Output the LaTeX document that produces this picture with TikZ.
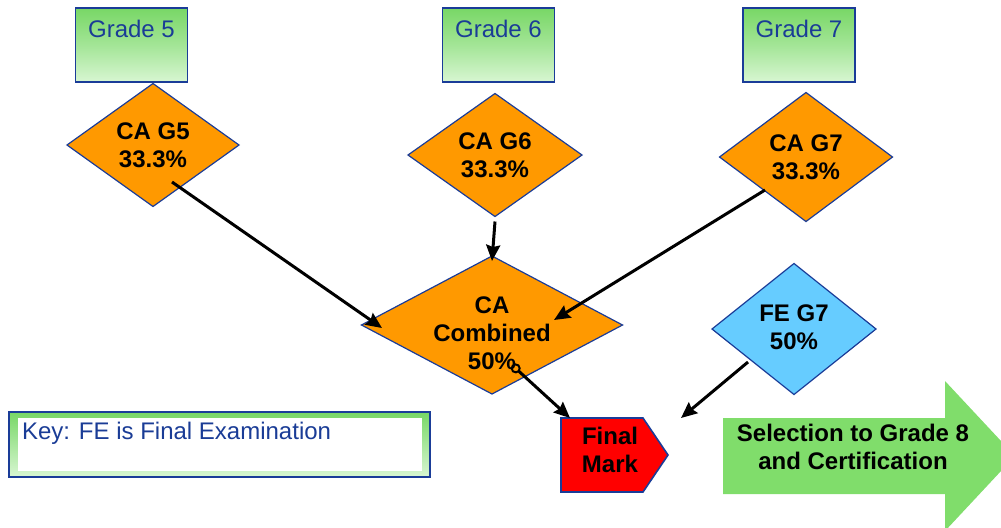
\documentclass[tikz,border=0pt]{standalone}
\usepackage{fontspec}
\setmainfont{Liberation Sans}
\usetikzlibrary{shapes.geometric,arrows.meta}
\definecolor{ora}{HTML}{FF9900}
\definecolor{bord}{HTML}{1A3C98}
\definecolor{gtxt}{HTML}{1A3C96}
\definecolor{lblue}{HTML}{66CCFF}
\definecolor{gtop}{HTML}{78D766}
\definecolor{gbot}{HTML}{D8F6D2}
\definecolor{garrow}{HTML}{80DD6B}
\tikzset{
  diam/.style={diamond, draw=bord, line width=0.6pt, inner sep=0pt, outer sep=0pt},
  dtext/.style={font=\fontsize{12}{14}\selectfont\bfseries, align=center, text=black},
  gradebox/.style={rectangle, draw=bord, line width=0.8pt, top color=gtop, bottom color=gbot, middle color=gtop!55!gbot,
    minimum width=56pt, minimum height=37pt, inner sep=0pt},
  gtextst/.style={font=\fontsize{12}{14}\selectfont, text=gtxt},
  tipst/.tip={Stealth[length=8pt,width=7pt,inset=1pt]},
  conn/.style={line width=1.5pt, -{tipst}},
}
\begin{document}
\begin{tikzpicture}[x=0.5pt,y=-0.5pt]
\useasboundingbox (0,0) rectangle (1001,527);
\clip (0,0) rectangle (1001,527);
% grade boxes
\node[gradebox, label={[gtextst, yshift=8pt]center:Grade 5}] (g5) at (131.5,45) {};
\node[gradebox, label={[gtextst, yshift=8pt]center:Grade 6}] (g6) at (498.5,45) {};
\node[gradebox, label={[gtextst, yshift=8pt]center:Grade 7}] (g7) at (799,45) {};
% CA diamonds
\node[diam, fill=ora, minimum width=86pt, minimum height=61.5pt,
  label={[dtext]center:CA G5\\33.3\%}] (cag5) at (153,145) {};
\node[diam, fill=ora, minimum width=87pt, minimum height=61.5pt,
  label={[dtext]center:CA G6\\33.3\%}] (cag6) at (495,155) {};
\node[diam, fill=ora, minimum width=86.5pt, minimum height=64.5pt,
  label={[dtext]center:CA G7\\33.3\%}] (cag7) at (806,157) {};
\node[diam, fill=ora, minimum width=130.5pt, minimum height=69pt,
  label={[dtext, yshift=-4pt]center:CA\\Combined\\50\%}] (cac) at (492,325) {};
\node[diam, fill=lblue, minimum width=82pt, minimum height=65.5pt,
  label={[dtext, yshift=1pt]center:FE G7\\50\%}] (fe) at (794,329) {};
% Final mark
\draw[bord, line width=0.8pt, fill=red] (561,418) -- (643,418) -- (668,455) -- (643,492) -- (561,492) -- cycle;
\node[dtext] (fm) at (610,450) {Final\\Mark};
\coordinate (fmA) at (570,418);
\coordinate (fmB) at (681,418);
% green arrow
\fill[garrow] (723,418) -- (945,418) -- (945,381) -- (1015,456) -- (945,531) -- (945,494) -- (723,494) -- cycle;
\node[dtext] (sel) at (853,447) {Selection to Grade 8\\and Certification};
% key box
\draw[bord, line width=0.8pt, top color=gtop, bottom color=gbot] (9,412) rectangle (430,477);
\fill[white] (18,418) rectangle (422,471);
\node[gtextst, anchor=west] (key) at (15,433) {Key: FE is Final Examination};
% connectors
\draw[conn] ([shift={(19,37)}]cag5.center) -- ([shift={(-110,3)}]cac.center);
\draw[conn] ([shift={(0,5)}]cag6.south) -- ([shift={(0,5)}]cac.north);
\draw[conn] ([shift={(-41,33)}]cag7.center) -- ([shift={(62,-5)}]cac.center);
\draw[line width=1.5pt, {Circle[open,length=5pt,line width=1pt]}-{tipst}] ([shift={(20,40)}]cac.center) -- (fmA);
\draw[conn] ([shift={(-46,33)}]fe.center) -- (fmB);
\end{tikzpicture}
\end{document}
